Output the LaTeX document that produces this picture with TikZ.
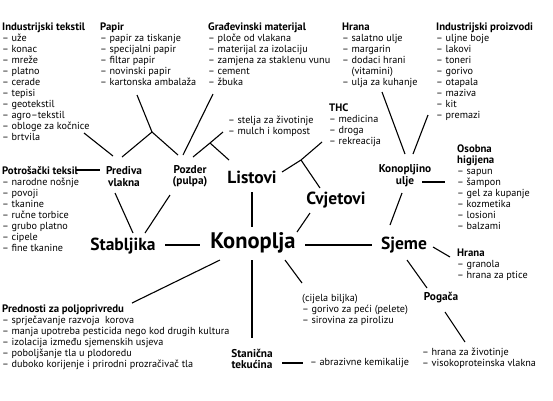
\documentclass[tikz,border=0pt]{standalone}
\usepackage{fontspec}
\setmainfont{PT Sans}
\usetikzlibrary{calc}
\newcommand\listtitle[1]{{\fontsize{10.8}{11}\selectfont\bfseries #1}}

\begin{document}
\begin{tikzpicture}[x=1pt, y=-1pt,
 lst/.style={anchor=north west, align=left, inner sep=0pt, font=\fontsize{10.2}{11}\selectfont},
 part/.style={inner sep=0pt, font=\fontsize{17.5}{19}\selectfont\bfseries},
 prod/.style={inner sep=0pt, align=center, font=\fontsize{11.3}{11.4}\selectfont\bfseries},
 line/.style={line width=1.1pt}]
\useasboundingbox (0,0) rectangle (553,400);
% plant parts
\node[inner sep=0pt, font=\fontsize{22.5}{24}\selectfont\bfseries] (kon) at (253,243) {Konoplja};
\node[part] (stab) at (123,246) {Stabljika};
\node[part] (sjeme) at (404,245) {Sjeme};
\node[part] (list) at (252,177) {Listovi};
\node[part] (cvj) at (336,200) {Cvjetovi};
% products
\node[prod] (pred) at (124,176.5) {Prediva\\vlakna};
\node[prod] (poz) at (190,176.5) {Pozder\\(pulpa)};
\node[prod] (ulje) at (405,175.5) {Konopljino\\ulje};
\node[prod] (stan) at (252,359) {Stanična\\tekućina};
\node[prod] (pog) at (441,298) {Pogača};
% uses
\node[lst] (indtek) at (2,22.5) {\listtitle{Industrijski tekstil}\\– uže\\– konac\\– mreže\\– platno\\– cerade\\– tepisi\\– geotekstil\\– agro–tekstil\\– obloge za kočnice\\– brtvila};
\node[lst] (papir) at (100,22.5) {\listtitle{Papir}\\– papir za tiskanje\\– specijalni papir\\– filtar papir\\– novinski papir\\– kartonska ambalaža};
\node[lst] (grad) at (208,22.5) {\listtitle{Građevinski materijal}\\– ploče od vlakana\\– materijal za izolaciju\\– zamjena za staklenu vunu\\– cement\\– žbuka};
\node[lst] (hrana) at (342,22.5) {\listtitle{Hrana}\\– salatno ulje\\– margarin\\– dodaci hrani\\\hphantom{– }(vitamini)\\– ulja za kuhanje};
\node[lst] (indpro) at (436,22.5) {\listtitle{Industrijski proizvodi}\\– uljne boje\\– lakovi\\– toneri\\– gorivo\\– otapala\\– maziva\\– kit\\– premazi};
\node[lst] (stelja) at (228,116) {– stelja za životinje\\– mulch i kompost};
\node[lst] (thc) at (329,104) {\listtitle{THC}\\– medicina\\– droga\\– rekreacija};
\node[lst] (osob) at (457,145) {\listtitle{Osobna}\\\listtitle{higijena}\\– sapun\\– šampon\\– gel za kupanje\\– kozmetika\\– losioni\\– balzami};
\node[lst] (hrana2) at (457,249) {\listtitle{Hrana}\\– granola\\– hrana za ptice};
\node[lst] (potr) at (2,166) {\listtitle{Potrošački teksil}\\– narodne nošnje\\– povoji\\– tkanine\\– ručne torbice\\– grubo platno\\– cipele\\– fine tkanine};
\node[lst] (predn) at (2,305) {\listtitle{Prednosti za poljoprivredu}\\– sprječavanje razvoja \ korova\\– manja upotreba pesticida nego kod drugih kultura\\– izolacija između sjemenskih usjeva\\– poboljšanje tla u plodoredu\\– duboko korijenje i prirodni prozračivač tla};
\node[lst] (cijela) at (302,294) {(cijela biljka)\\– gorivo za peći (pelete)\\– sirovina za pirolizu};
\node[lst] (hranaziv) at (422,348) {– hrana za životinje\\– visokoproteinska vlakna};
\node[lst, anchor=west] (abraz) at (310,363) {– abrazivne kemikalije};
% junctions
\coordinate (jpap) at (152,132);
\coordinate (jlist) at (210,143);
\coordinate (jthc) at (301,160);
% connectors
\draw[line] ($(stab)+(42,-1)$) -- ($(kon)+(-53,2)$);
\draw[line] ($(kon)+(52,2)$) -- ($(sjeme)+(-32,0)$);
\draw[line] ($(list)+(0,15)$) -- ($(kon)+(-1,-16)$);
\draw[line] ($(kon)+(44,-11)$) -- ($(cvj)+(-26,13)$);
\draw[line] ($(pred)+(-9,16.5)$) -- ($(stab)+(10,-13)$);
\draw[line] ($(poz)+(-20,18.5)$) -- ($(stab)+(22,-13)$);
\draw[line] ($(potr.north west)+(74,4)$) -- ($(pred)+(-24,-6.5)$);
\draw[line] ($(indtek.north west)+(82,110.5)$) -- ($(pred)+(-11,-20.5)$);
\draw[line] ($(papir.north west)+(37,72.5)$) -- (jpap) -- ($(pred)+(-2,-19.5)$);
\draw[line] (jpap) -- ($(poz)+(-12,-21.5)$);
\draw[line] ($(grad.north west)+(5,71.5)$) -- ($(poz)+(-7,-21.5)$);
\draw[line] ($(poz)+(3,-19.5)$) -- (jlist) -- ($(stelja.north west)+(-5,16)$);
\draw[line] (jlist) -- ($(list)+(-23,-17)$);
\draw[line] ($(list)+(30,-5)$) -- (jthc) -- ($(thc.north west)+(-7,38)$);
\draw[line] (jthc) -- ($(cvj)+(-16,-12)$);
\draw[line] ($(hrana.north west)+(40,69.5)$) -- ($(ulje)+(0,-21.5)$);
\draw[line] ($(indpro.north west)+(-8,92.5)$) -- ($(ulje)+(8,-21.5)$);
\draw[line] ($(ulje)+(17,6.5)$) -- ($(osob.north west)+(-12,37)$);
\draw[line] ($(ulje)+(-3,17.5)$) -- ($(sjeme)+(-14,-20)$);
\draw[line] ($(sjeme)+(29,2)$) -- ($(hrana2.north west)+(-7,8)$);
\draw[line] ($(sjeme)+(3,15)$) -- ($(pog)+(-14,-10)$);
\draw[line] ($(pog)+(4,14)$) -- ($(hranaziv.north west)+(43,-6)$);
\draw[line] ($(kon)+(32,17)$) -- ($(cijela.north west)+(0,-11)$);
\draw[line] ($(kon)+(-33,17)$) -- ($(predn.north west)+(130,-2)$);
\draw[line] ($(kon)+(-1,17)$) -- ($(stan)+(0,-21)$);
\draw[line] ($(stan)+(30,4)$) -- ($(abraz.west)+(-7,0)$);
\end{tikzpicture}
\end{document}
